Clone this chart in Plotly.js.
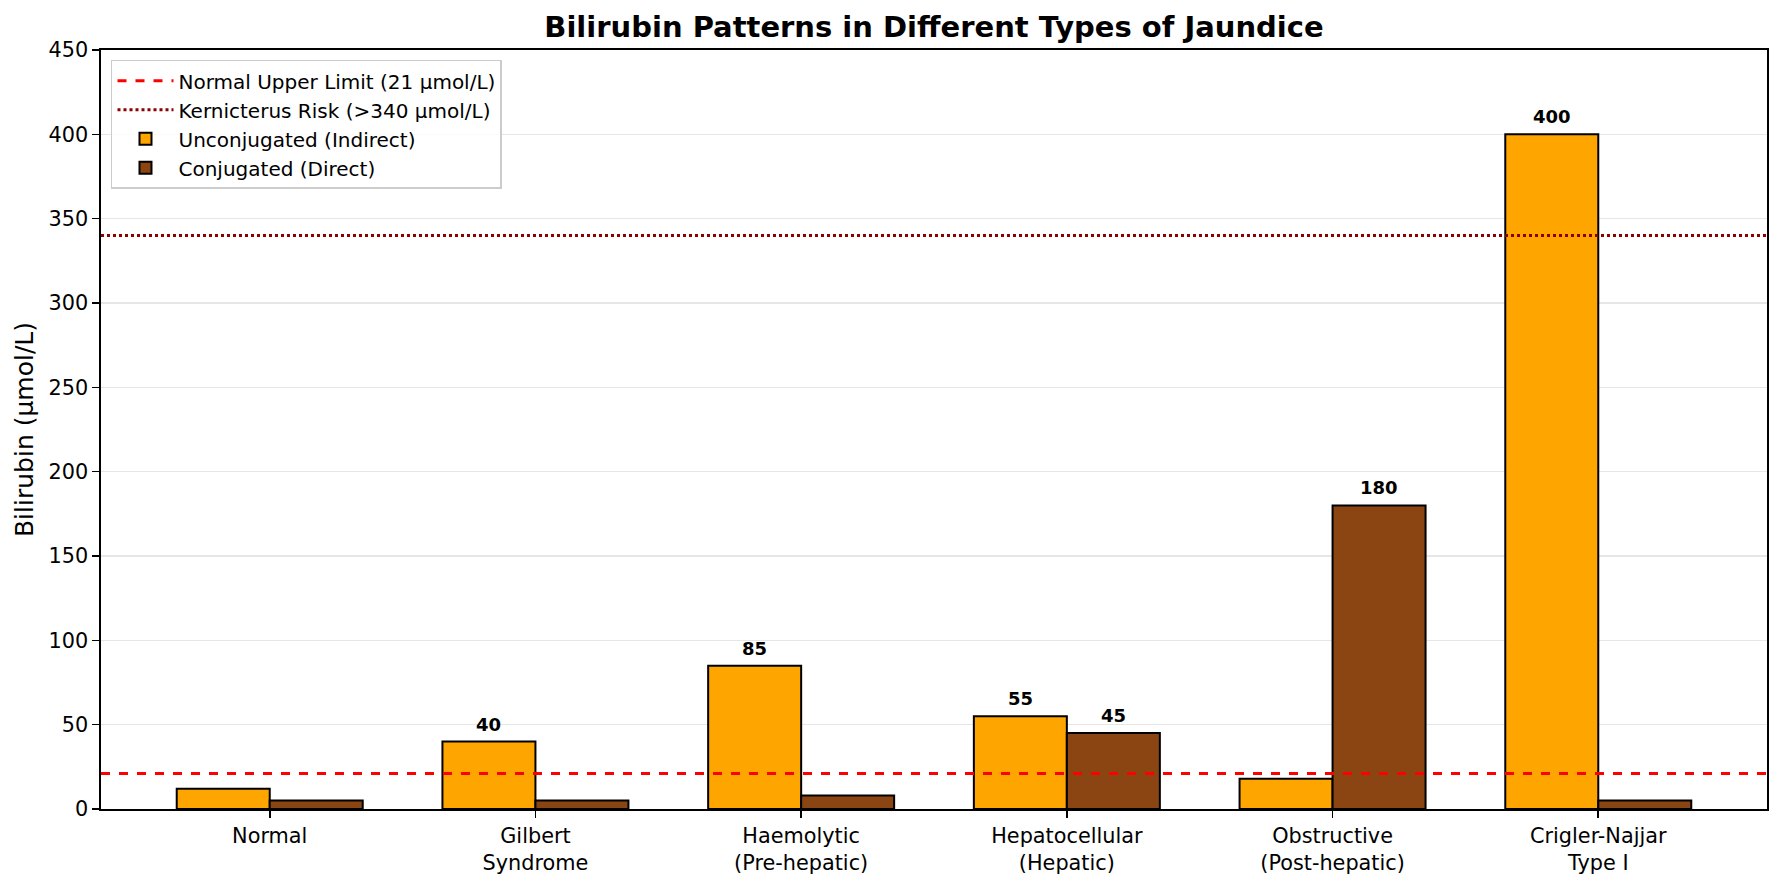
<!DOCTYPE html>
<html>
<head>
<meta charset="utf-8">
<script src="https://cdn.plot.ly/plotly-3.0.1.min.js"></script>
<style>
  html, body { margin: 0; padding: 0; background: #fff; }
  #chart { width: 1782px; height: 882px; }
</style>
</head>
<body>
<div id="chart"></div>
<script>
var categories = ['Normal', 'Gilbert<br>Syndrome', 'Haemolytic<br>(Pre-hepatic)', 'Hepatocellular<br>(Hepatic)', 'Obstructive<br>(Post-hepatic)', 'Crigler-Najjar<br>Type I'];
var unconjugated = [12, 40, 85, 55, 18, 400];
var conjugated = [5, 5, 8, 45, 180, 5];
var normalLimit = 21;
var kernicterusRisk = 340;

var positions = categories.map(function (c, i) { return i; });
var barWidth = 0.35;
var unconjX = positions.map(function (p) { return p - barWidth / 2; });
var conjX = positions.map(function (p) { return p + barWidth / 2; });

var font = 'DejaVu Sans, sans-serif';

// Value labels only on bars clearly above the normal limit, like the original.
function valueLabels(xs, values) {
    var out = [];
    for (var i = 0; i < values.length; i++) {
        if (values[i] > 20) {
            out.push({
                x: xs[i], y: values[i], xref: 'x', yref: 'y',
                text: '<b>' + values[i] + '</b>', showarrow: false,
                xanchor: 'center', yanchor: 'bottom', yshift: 5,
                font: { family: font, size: 18, color: '#000' }
            });
        }
    }
    return out;
}

var data = [
    {
        x: [null], y: [null], name: 'Normal Upper Limit (21 µmol/L)',
        mode: 'lines', type: 'scatter',
        line: { color: '#ff0000', width: 3, dash: 'dash' }
    },
    {
        x: [null], y: [null], name: 'Kernicterus Risk (>340 µmol/L)',
        mode: 'lines', type: 'scatter',
        line: { color: '#8b0000', width: 3, dash: 'dot' }
    },
    {
        type: 'bar', name: 'Unconjugated (Indirect)',
        x: unconjX, y: unconjugated, width: barWidth,
        marker: { color: '#ffa500', line: { color: '#000', width: 2 } },
        hoverinfo: 'y'
    },
    {
        type: 'bar', name: 'Conjugated (Direct)',
        x: conjX, y: conjugated, width: barWidth,
        marker: { color: '#8b4513', line: { color: '#000', width: 2 } },
        hoverinfo: 'y'
    }
];

var layout = {
    width: 1782, height: 882,
    paper_bgcolor: '#fff', plot_bgcolor: '#fff',
    font: { family: font, size: 21, color: '#000' },
    margin: { t: 50, r: 15, b: 73, l: 101 },
    title: {
        text: '<b>Bilirubin Patterns in Different Types of Jaundice</b>',
        font: { family: font, size: 29, color: '#000' },
        x: 0.5, xref: 'paper', xanchor: 'center', y: 0.969, yanchor: 'middle'
    },
    barmode: 'overlay',
    showlegend: true,
    legend: {
        x: 0.006, y: 0.987, xanchor: 'left', yanchor: 'top',
        bgcolor: 'rgba(255,255,255,0.8)', bordercolor: '#cccccc', borderwidth: 1.5,
        font: { family: font, size: 20 }, traceorder: 'normal',
        itemwidth: 56, tracegroupgap: 0
    },
    xaxis: {
        range: [-0.635, 5.635],
        tickmode: 'array', tickvals: positions, ticktext: categories,
        ticks: 'outside', ticklen: 7, tickwidth: 1.6, tickcolor: '#000',
        showgrid: false, zeroline: false,
        showline: true, linecolor: '#000', linewidth: 1.7, mirror: true,
        tickfont: { family: font, size: 20.8 }
    },
    yaxis: {
        range: [0, 450], dtick: 50,
        ticks: 'outside', ticklen: 7, tickwidth: 1.6, tickcolor: '#000',
        showgrid: true, gridcolor: '#e6e6e6', gridwidth: 1.5,
        zeroline: false,
        showline: true, linecolor: '#000', linewidth: 1.7, mirror: true,
        tickfont: { family: font, size: 20.8 },
        title: { text: 'Bilirubin (µmol/L)', font: { family: font, size: 25 }, standoff: 8 }
    },
    annotations: valueLabels(unconjX, unconjugated).concat(valueLabels(conjX, conjugated)),
    shapes: [
        {
            type: 'line', xref: 'paper', x0: 0, x1: 1, yref: 'y', y0: normalLimit, y1: normalLimit,
            line: { color: '#ff0000', width: 3, dash: 'dash' }, layer: 'above'
        },
        {
            type: 'line', xref: 'paper', x0: 0, x1: 1, yref: 'y', y0: kernicterusRisk, y1: kernicterusRisk,
            line: { color: '#8b0000', width: 3, dash: 'dot' }, layer: 'above'
        }
    ]
};

Plotly.newPlot('chart', data, layout, { displayModeBar: false, staticPlot: true });
</script>
</body>
</html>
